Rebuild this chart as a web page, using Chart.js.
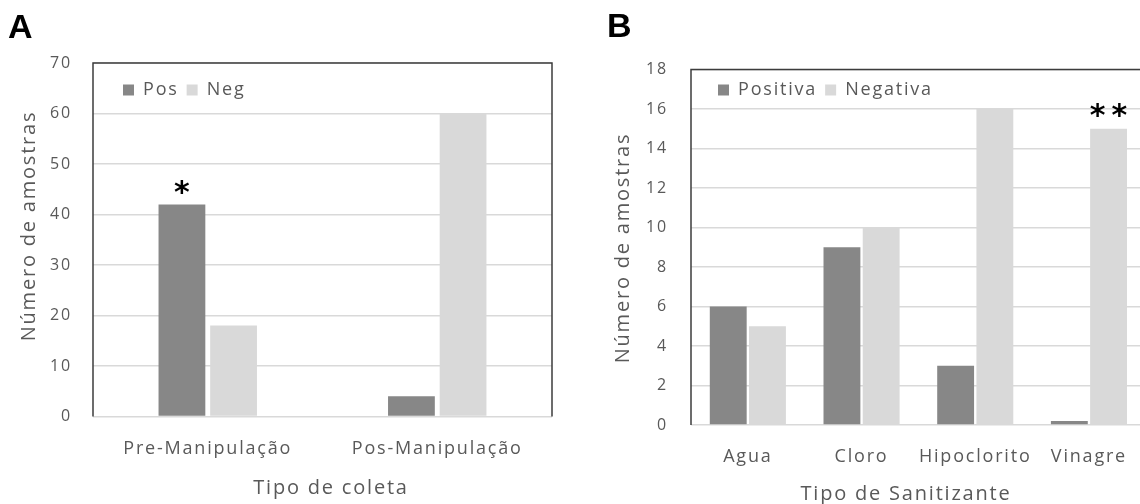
<!DOCTYPE html>
<html><head><meta charset="utf-8">
<script src="https://cdn.jsdelivr.net/npm/chart.js@4.4.1/dist/chart.umd.min.js"></script>
<style>
html,body{margin:0;padding:0;background:#fff;overflow:hidden;width:1140px;height:504px;position:relative;}
canvas{position:absolute;top:0;}
</style></head><body>
<canvas id="ca" width="580" height="504" style="left:0px"></canvas>
<canvas id="cb" width="570" height="504" style="left:590px"></canvas>
<script>
// ---- Data ----
const categoriesA = ['Pre-Manipulação', 'Pos-Manipulação'];
const seriesNamesA = ['Pos', 'Neg'];
const posA = [42, 4];
const negA = [18, 60];
const yTicksA = [0, 10, 20, 30, 40, 50, 60, 70];

const categoriesB = ['Agua', 'Cloro', 'Hipoclorito', 'Vinagre'];
const seriesNamesB = ['Positiva', 'Negativa'];
const posB = [6, 9, 3, 0.2];
const negB = [5, 10, 16, 15];
const yTicksB = [0, 2, 4, 6, 8, 10, 12, 14, 16, 18];

const titlesA = { x: 'Tipo de coleta', y: 'Número de amostras', panel: 'A' };
const titlesB = { x: 'Tipo de Sanitizante', y: 'Número de amostras', panel: 'B' };
const starsA = [{ ds: 0, i: 0, text: '*' }];
const starsB = [{ ds: 1, i: 3, text: '**' }];

// ---- Style ----
const FONT = "'Open Sans', sans-serif";
const SPACING = '1.8px';
const TXT = '#595959';
const DARK = '#878787';
const LIGHT = '#d9d9d9';

const styler = {
  id: 'styler',
  beforeUpdate(chart) { chart.ctx.letterSpacing = SPACING; },
  beforeLayout(chart) {
    chart.ctx.letterSpacing = SPACING;
    if (chart.legend) chart.legend.isHorizontal = () => true;
  },
  beforeDraw(chart) { chart.ctx.letterSpacing = SPACING; },
  afterLayout(chart, args, o) {
    const lg = chart.legend, a = chart.chartArea;
    if (lg) {
      const w = lg.width, h = lg.height;
      lg.left = a.left + o.legendDx; lg.right = lg.left + w;
      lg.top = o.legendTop; lg.bottom = lg.top + h;
    }
  },
  afterDraw(chart, args, o) {
    const ctx = chart.ctx, a = chart.chartArea;
    ctx.save();
    // frame
    ctx.strokeStyle = '#3c3c3c'; ctx.lineWidth = 1.5;
    ctx.beginPath();
    ctx.moveTo(a.left, a.bottom); ctx.lineTo(a.left, a.top);
    ctx.lineTo(a.right, a.top); ctx.lineTo(a.right, a.bottom);
    ctx.stroke();
    // axis titles
    ctx.fillStyle = TXT;
    ctx.font = '20px ' + FONT;
    ctx.letterSpacing = SPACING;
    ctx.textAlign = 'center'; ctx.textBaseline = 'alphabetic';
    ctx.fillText(o.titles.x, o.xTitleX, o.xTitleBase);
    ctx.save();
    ctx.translate(o.yTitleBase, o.yTitleY);
    ctx.rotate(-Math.PI / 2);
    ctx.fillText(o.titles.y, 0, 0);
    ctx.restore();
    // panel letter
    ctx.fillStyle = '#000';
    ctx.letterSpacing = '0px';
    ctx.font = "bold 34px 'Liberation Sans', Arial, sans-serif";
    ctx.textAlign = 'left';
    ctx.fillText(o.titles.panel, o.panelX, o.panelY);
    // significance stars
    ctx.font = "bold 30px 'DejaVu Sans', sans-serif";
    ctx.letterSpacing = '6px';
    o.stars.forEach(s => {
      const el = chart.getDatasetMeta(s.ds).data[s.i];
      const m = ctx.measureText(s.text);
      const w = m.actualBoundingBoxRight + m.actualBoundingBoxLeft;
      const cx = el.x, cy = el.y - o.starGap;
      ctx.fillText(s.text, cx - w / 2 + m.actualBoundingBoxLeft, cy + (m.actualBoundingBoxAscent - m.actualBoundingBoxDescent) / 2);
    });
    ctx.restore();
  }
};

function makeChart(id, cfg) {
  return new Chart(document.getElementById(id), {
    type: 'bar',
    data: {
      labels: cfg.categories,
      datasets: [
        { label: cfg.names[0], data: cfg.pos, backgroundColor: DARK, borderWidth: 0,
          categoryPercentage: cfg.catPct, barPercentage: cfg.barPct },
        { label: cfg.names[1], data: cfg.neg, backgroundColor: LIGHT, borderWidth: 0,
          categoryPercentage: cfg.catPct, barPercentage: cfg.barPct }
      ]
    },
    options: {
      responsive: false,
      animation: false,
      devicePixelRatio: 1,
      layout: { padding: { left: 0, top: cfg.top, right: cfg.right, bottom: 0 } },
      plugins: {
        tooltip: { enabled: false },
        legend: {
          position: 'chartArea', align: 'start',
          labels: { color: TXT, font: { family: FONT, size: 18 }, boxWidth: 11, boxHeight: 11, padding: 8 }
        },
        styler: cfg.styler
      },
      scales: {
        x: {
          grid: { display: false, drawTicks: false },
          border: { display: false },
          ticks: { color: TXT, font: { family: FONT, size: 18 }, padding: cfg.xPad, autoSkip: false, maxRotation: 0 },
          afterFit(s) { s.height = cfg.xHeight; }
        },
        y: {
          min: cfg.yTicks[0], max: cfg.yTicks[cfg.yTicks.length - 1],
          afterBuildTicks(s) { s.ticks = cfg.yTicks.map(v => ({ value: v })); },
          ticks: { color: TXT, font: { family: FONT, size: 16 }, padding: cfg.yPad },
          grid: { color: LIGHT, lineWidth: 1.5, drawTicks: false },
          border: { display: false },
          afterFit(s) { s.width = cfg.yWidth; }
        }
      }
    },
    plugins: [styler]
  });
}

makeChart('ca', {
  categories: categoriesA, names: seriesNamesA, pos: posA, neg: negA, yTicks: yTicksA,
  catPct: 0.45, barPct: 0.906, top: 63, right: 28, xHeight: 87.5, yWidth: 93, xPad: 22, yPad: 21,
  styler: { titles: titlesA, stars: starsA, starGap: 17, legendDx: 22, legendTop: 73,
            xTitleX: 331, xTitleBase: 494, yTitleBase: 35, yTitleY: 226, panelX: 8, panelY: 38 }
});

makeChart('cb', {
  categories: categoriesB, names: seriesNamesB, pos: posB, neg: negB, yTicks: yTicksB,
  catPct: 0.69, barPct: 0.94, top: 69.5, right: 14.2, xHeight: 79, yWidth: 101, xPad: 21, yPad: 23,
  styler: { titles: titlesB, stars: starsB, starGap: 18, legendDx: 19, legendTop: 73,
            xTitleX: 316, xTitleBase: 500, yTitleBase: 39, yTitleY: 248, panelX: 17, panelY: 37 }
});
</script>
</body></html>
